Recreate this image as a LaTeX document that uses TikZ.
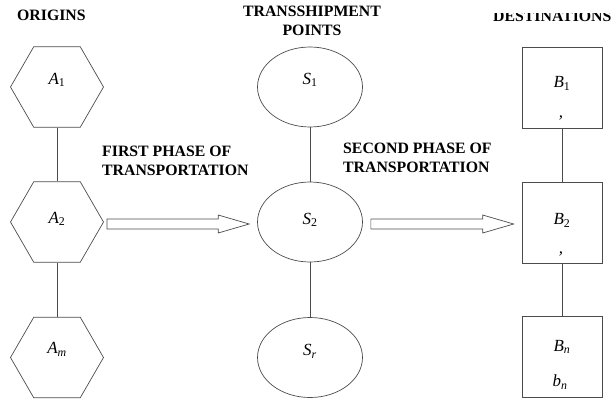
\documentclass[tikz,border=0pt]{standalone}
\usepackage{fontspec}
\setmainfont{Liberation Serif}
\usetikzlibrary{shapes.geometric,calc}

\tikzset{
  origin/.style={regular polygon,regular polygon sides=6,draw=black!70,line width=0.7pt,minimum size=93pt,inner sep=0pt},
  transship/.style={ellipse,draw=black!70,line width=0.7pt,minimum width=105pt,minimum height=80pt,inner sep=0pt},
  dest/.style={rectangle,draw=black!70,line width=0.7pt,minimum width=80pt,minimum height=81pt,inner sep=0pt},
  heading/.style={font=\fontsize{15.8}{19}\selectfont\bfseries,inner sep=0pt},
  lbl/.style={font=\fontsize{17}{19}\selectfont\itshape,inner sep=0pt},
  link/.style={draw=black!70,line width=0.7pt},
  phasearrow/.style={draw=black!70,line width=0.7pt,to path={
    let \p1=(\tikztostart), \p2=(\tikztotarget) in
    (\x1,\y1+5pt) -- (\x2-31pt,\y1+5pt) -- (\x2-31pt,\y1+9pt) -- (\x2,\y1)
    -- (\x2-31pt,\y1-9pt) -- (\x2-31pt,\y1-5pt) -- (\x1,\y1-5pt) -- cycle}}
}

\begin{document}
\begin{tikzpicture}[x=1pt,y=-1pt]
  \useasboundingbox (0,0) rectangle (611,402);
  % column headings
  \node[heading,anchor=base west] (horig) at (17,20) {ORIGINS};
  \node[heading,align=center] (htrans) at (312,21) {TRANSSHIPMENT\\POINTS};
  \begin{scope}
    \clip (480,13) rectangle (611,30);
    \node[heading,anchor=base west] (hdest) at (493,21) {DESTINATIONS};
  \end{scope}
  % origins (hexagons, left)
  \node[origin] (a1) at (57,87) {};
  \node[origin] (a2) at (57,222) {};
  \node[origin] (am) at (57,357.5) {};
  \node[lbl] (ta1) at ([yshift=7pt]a1.center) {A\textsubscript{\upshape 1}};
  \node[lbl] (ta2) at ([yshift=3pt]a2.center) {A\textsubscript{\upshape 2}};
  \node[lbl] (tam) at ([yshift=8pt]am.center) {A\textsubscript{m}};
  % transshipment points (ellipses, middle)
  \node[transship] (s1) at (310,87) {};
  \node[transship] (s2) at (310,222) {};
  \node[transship] (sr) at (310,357.5) {};
  \node[lbl] (ts1) at ([yshift=7pt]s1.center) {S\textsubscript{\upshape 1}};
  \node[lbl] (ts2) at ([yshift=2pt]s2.center) {S\textsubscript{\upshape 2}};
  \node[lbl] (tsr) at ([yshift=6pt]sr.center) {S\textsubscript{r}};
  % destinations (boxes, right)
  \node[dest] (b1) at (562,87.5) {};
  \node[dest] (b2) at (562,222.5) {};
  \node[dest] (bn) at (562,357) {};
  \node[lbl] (tb1) at ([yshift=4pt]b1.center) {B\textsubscript{\upshape 1}};
  \node[lbl] (cb1) at ([xshift=-1pt,yshift=-30pt]b1.center) {,};
  \node[lbl] (tb2) at ([yshift=2pt]b2.center) {B\textsubscript{\upshape 2}};
  \node[lbl] (cb2) at ([xshift=-1pt,yshift=-31pt]b2.center) {,};
  \node[lbl] (tbn) at ([yshift=10pt]bn.center) {B\textsubscript{n}};
  \node[lbl] (lbn) at ([xshift=-2pt,yshift=-25pt]bn.center) {b\textsubscript{n}};
  % vertical links
  \draw[link] (a1) -- (a2);
  \draw[link] (a2) -- (am);
  \draw[link] (s1) -- (s2);
  \draw[link] (s2) -- (sr);
  \draw[link] (b1) -- (b2);
  \draw[link] (b2) -- (bn);
  % phase arrows
  \draw[phasearrow] ([xshift=3pt,yshift=-2pt]a2.east) to ([xshift=-8pt,yshift=-2pt]s2.west);
  \draw[phasearrow] ([xshift=8pt,yshift=-2pt]s2.east) to ([xshift=-8pt,yshift=-2pt]b2.west);
  \node[heading,align=left,anchor=north west] (first) at (102,146) {FIRST PHASE OF\\TRANSPORTATION};
  \node[heading,align=left,anchor=north west] (second) at (343,143) {SECOND PHASE OF\\TRANSPORTATION};
\end{tikzpicture}
\end{document}
